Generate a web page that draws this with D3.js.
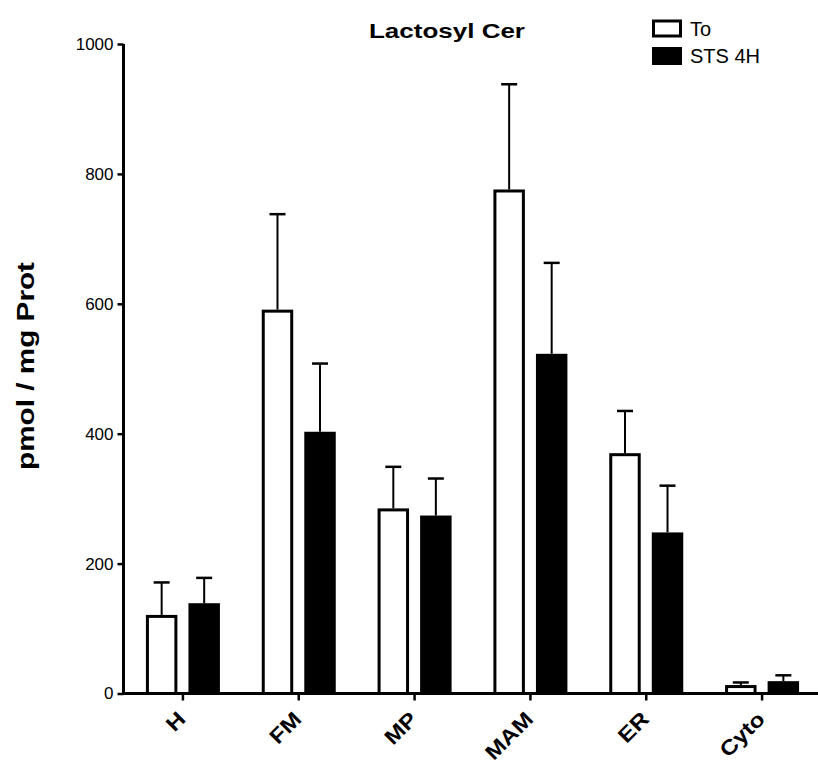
<!DOCTYPE html>
<html>
<head>
<meta charset="utf-8">
<script src="https://cdn.jsdelivr.net/npm/d3@7"></script>
<style>
  html, body { margin: 0; padding: 0; background: #fff; }
  svg { display: block; font-family: "Liberation Sans", Arial, Helvetica, sans-serif; }
</style>
</head>
<body>
<svg id="chart" width="818" height="764"></svg>
<script>
// ---- data ----
const categories = ["H", "FM", "MP", "MAM", "ER", "Cyto"];
const seriesNames = ["To", "STS 4H"];
const toValues   = [121, 591, 285, 776, 370, 13];
const toErrors   = [50, 147, 64, 162, 65, 4];
const stsValues  = [139, 403, 274, 523, 248, 19];
const stsErrors  = [39, 105, 57, 140, 72, 9];
const yTicks = [0, 200, 400, 600, 800, 1000];
const titleText = "Lactosyl Cer";
const yLabel = "pmol / mg Prot";

const seriesValues = [toValues, stsValues];
const seriesErrors = [toErrors, stsErrors];
const seriesFill = ["#ffffff", "#000000"];

const svg = d3.select("#chart");

const x = d3.scaleBand().domain(categories).range([125, 820]).padding(0);
const y = d3.scaleLinear().domain([0, 1000]).range([693.5, 44]);
const xInner = d3.scaleBand().domain(seriesNames).range([-37, 37]).paddingInner(0.26).paddingOuter(0);

// data table
const rows = [];
categories.forEach((c, i) => {
  seriesNames.forEach((s, j) => {
    rows.push({cat: c, series: s, value: seriesValues[j][i], err: seriesErrors[j][i], fill: seriesFill[j]});
  });
});

const g = svg.append("g");
const cx = d => x(d.cat) + x.bandwidth() / 2 + xInner(d.series) + xInner.bandwidth() / 2;

// error bars
const eb = g.selectAll("g.err").data(rows).enter().append("g").attr("class", "err");
eb.append("line")
  .attr("x1", cx).attr("x2", cx)
  .attr("y1", d => y(d.value))
  .attr("y2", d => y(d.value + d.err))
  .attr("stroke", "#000").attr("stroke-width", 2);
eb.append("line")
  .attr("x1", d => cx(d) - 8)
  .attr("x2", d => cx(d) + 8)
  .attr("y1", d => y(d.value + d.err))
  .attr("y2", d => y(d.value + d.err))
  .attr("stroke", "#000").attr("stroke-width", 2.5);

// bars
g.selectAll("rect.bar").data(rows).enter().append("rect")
  .attr("class", "bar")
  .attr("x", d => x(d.cat) + x.bandwidth() / 2 + xInner(d.series) + 1.5)
  .attr("width", xInner.bandwidth() - 3)
  .attr("y", d => y(d.value) + 1.5)
  .attr("height", d => Math.max(0, y(0) - y(d.value) - 1.5))
  .attr("fill", d => d.fill)
  .attr("stroke", "#000").attr("stroke-width", 3);

// y axis
const yAxis = d3.axisLeft(y).tickValues(yTicks).tickSize(6).tickPadding(4).tickFormat(d3.format("d"));
const yg = svg.append("g").attr("transform", "translate(123.5,0)").call(yAxis);
yg.select(".domain").attr("stroke-width", 3).attr("d", `M0,${y(1000)}V${y(0) + 1.5}`);
yg.selectAll(".tick line").attr("stroke-width", 2.5);
yg.selectAll(".tick text").attr("font-size", 17).attr("fill", "#000")
  .attr("font-family", "Liberation Sans, Arial, sans-serif");

// x axis
const xAxis = d3.axisBottom(x).tickSize(7).tickFormat("");
const xg = svg.append("g").attr("transform", `translate(0,${y(0)})`).call(xAxis);
xg.select(".domain").attr("stroke-width", 3).attr("d", `M122,0H818`);
xg.selectAll(".tick line").attr("stroke-width", 2.5);
xg.selectAll(".tick").append("text")
  .attr("text-anchor", "end")
  .attr("transform", "translate(4,27) rotate(-45)")
  .attr("font-size", 21)
  .attr("font-weight", "bold")
  .attr("font-family", "Liberation Sans, Arial, sans-serif")
  .attr("fill", "#000")
  .text(d => d)
  .each(function() {
    const len = this.getComputedTextLength();
    d3.select(this).attr("textLength", len * 1.15).attr("lengthAdjust", "spacingAndGlyphs");
  });

// title
svg.append("text")
  .attr("x", 447).attr("y", 38)
  .attr("text-anchor", "middle")
  .attr("font-size", 21).attr("font-weight", "bold")
  .attr("textLength", 156).attr("lengthAdjust", "spacingAndGlyphs")
  .text(titleText);

// y label
svg.append("text")
  .attr("transform", "translate(33.5,366) rotate(-90)")
  .attr("text-anchor", "middle")
  .attr("font-size", 24).attr("font-weight", "bold")
  .attr("textLength", 208).attr("lengthAdjust", "spacingAndGlyphs")
  .text(yLabel);

// legend
const legend = svg.append("g");
const legendY = [28.5, 56];
seriesNames.forEach((s, j) => {
  legend.append("rect")
    .attr("x", 653.5).attr("y", legendY[j] - 7.5)
    .attr("width", 27).attr("height", 15)
    .attr("fill", seriesFill[j]).attr("stroke", "#000").attr("stroke-width", 3);
  legend.append("text")
    .attr("x", 690).attr("y", legendY[j] + 7)
    .attr("font-size", 20)
    .attr("fill", "#000")
    .text(s);
});
</script>
</body>
</html>
